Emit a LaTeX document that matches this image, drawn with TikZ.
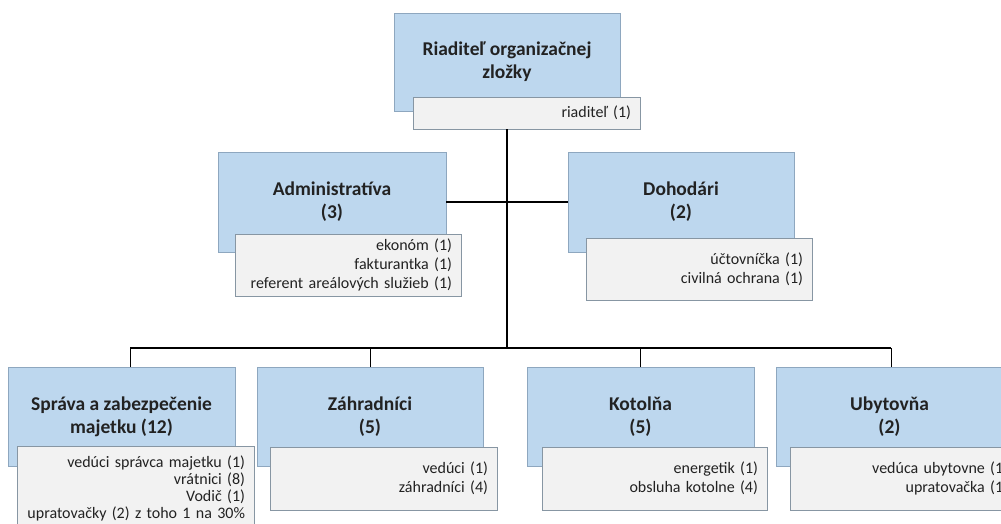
\documentclass[tikz,border=0pt]{standalone}
\usepackage{fontspec}
\setmainfont{Carlito}
\definecolor{bluefill}{HTML}{BDD7EE}
\definecolor{blueedge}{HTML}{8EA7BF}
\definecolor{grayfill}{HTML}{F2F2F2}
\definecolor{grayedge}{HTML}{8796A3}
\definecolor{txt}{HTML}{222222}
\begin{document}
\begin{tikzpicture}[x=1pt,y=-1pt,
  bluebox/.style={draw=blueedge,fill=bluefill,line width=0.9pt,inner sep=0pt,
    minimum height=99pt,align=center,text=txt,
    font=\fontsize{19.5}{23}\selectfont\bfseries},
  graybox/.style={draw=grayedge,fill=grayfill,line width=0.9pt,inner ysep=0pt,inner xsep=9pt,
    align=right,text=txt,font=\fontsize{16}{19}\selectfont},
  conn/.style={draw=black,line width=1.5pt},
  drop/.style={draw=black,line width=1pt}]
\clip (0,0) rectangle (1001,524);
\fill[white] (0,0) rectangle (1001,524);
% top
\node[bluebox,minimum width=226pt,minimum height=98pt] (top) at (507,62) {Riaditeľ organizačnej\\zložky};
\node[graybox,minimum width=227pt,minimum height=32pt,text width=209pt] (topg) at (526.5,113) {riaditeľ (1)};
% second level
\node[bluebox,minimum width=228pt,minimum height=100pt] (adm) at (332,202) {Administratíva\\(3)};
\node[graybox,minimum width=226pt,minimum height=62pt,text width=208pt] (admg) at (348,265) {ekonóm (1)\\fakturantka (1)\\referent areálových služieb (1)};
\node[bluebox,minimum width=226pt,minimum height=100pt] (doh) at (681,202) {Dohodári\\(2)};
\node[graybox,minimum width=226pt,minimum height=62pt,text width=208pt] (dohg) at (699,269) {účtovníčka (1)\\civilná ochrana (1)};
% third level
\node[bluebox,minimum width=227pt] (spr) at (121.5,416.5) {Správa a zabezpečenie\\majetku (12)};
\node[graybox,minimum width=235pt,minimum height=84pt,text width=219pt,font=\fontsize{16}{17}\selectfont] (sprg) at (135.5,488) {vedúci správca majetku (1)\\vrátnici (8)\\Vodič (1)\\upratovačky (2) z toho 1 na 30\%};
\node[bluebox,minimum width=226pt] (zah) at (370,416.5) {Záhradníci\\(5)};
\node[graybox,minimum width=227pt,minimum height=63pt,text width=209pt] (zahg) at (383.5,478.5) {vedúci (1)\\záhradníci (4)};
\node[bluebox,minimum width=227pt] (kot) at (640.5,416.5) {Kotolňa\\(5)};
\node[graybox,minimum width=225pt,minimum height=63pt,text width=207pt] (kotg) at (654.5,478.5) {energetik (1)\\obsluha kotolne (4)};
\node[bluebox,minimum width=227pt] (uby) at (889.5,416.5) {Ubytovňa\\(2)};
\node[graybox,minimum width=227pt,minimum height=63pt,text width=209pt] (ubyg) at (903.5,478.5) {vedúca ubytovne (1)\\upratovačka (1)};
% connectors
\coordinate (bus) at (507,348);
\coordinate (bl) at (130,348);
\coordinate (br) at (891,348);
\draw[conn] (top |- topg.south) -- (bus);
\draw[conn] (adm.east) -- (adm.east -| bus) -- (doh.west);
\draw[conn] (bl) -- (br);
\draw[drop] (bl) -- (bl |- spr.north);
\draw[drop] (zah.north |- bus) -- (zah.north);
\draw[drop] (kot.north |- bus) -- (kot.north);
\draw[drop] (br) -- (br |- uby.north);
\end{tikzpicture}
\end{document}
